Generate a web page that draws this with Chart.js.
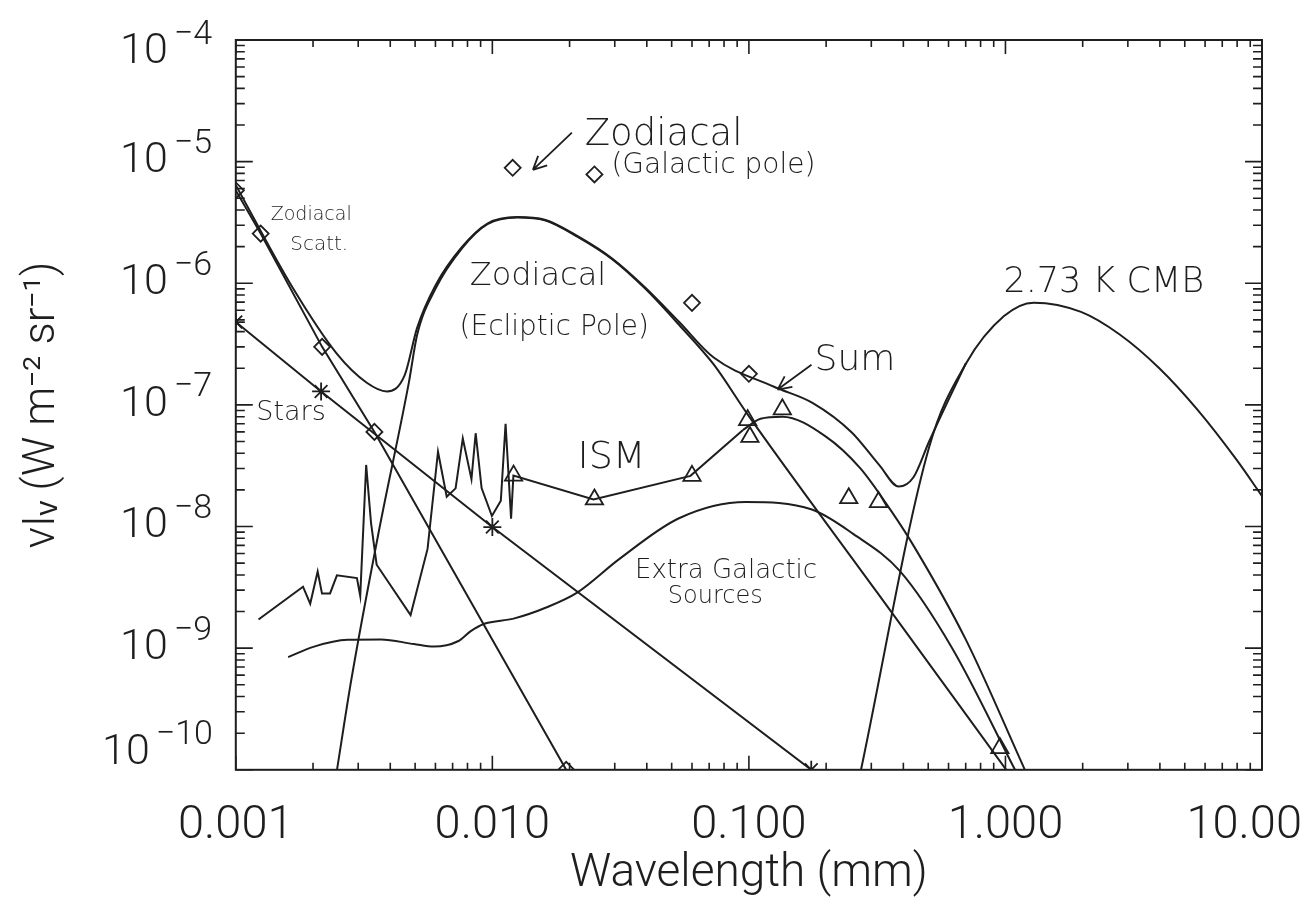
<!DOCTYPE html>
<html lang="en">
<head>
<meta charset="UTF-8">
<title>Diffuse sky brightness components</title>
<script src="https://cdn.jsdelivr.net/npm/chart.js"></script>
<style>
  html, body { margin: 0; padding: 0; background: #ffffff; }
  #wrap { width: 1306px; height: 902px; }
</style>
</head>
<body>
<div id="wrap"><canvas id="chart"></canvas></div>
<script>
// wavelength in mm, nu*I_nu in W m^-2 sr^-1

// zodiacal scattered light (diamonds on the line)
const scattX = [0.001, 0.00125, 0.00217, 0.00347, 0.0194];
const scattY = [5.8e-6, 2.56e-6, 3.0e-7, 6.0e-8, 1.0e-10];

// stars (asterisks on the line)
const starsX = [0.001, 0.00215, 0.0100, 0.175];
const starsY = [4.8e-7, 1.29e-7, 9.9e-9, 1.0e-10];

// zodiacal thermal emission, ecliptic pole
const zodiX = [0.00248, 0.00282, 0.00362, 0.00473, 0.00509, 0.0060, 0.0076, 0.00957, 0.0125, 0.016, 0.0215, 0.0293, 0.0395, 0.0535, 0.0729, 0.0987, 0.315, 1.007];
const zodiY = [1.0e-10, 5.5e-10, 9.4e-9, 1.54e-7, 3.75e-7, 9.0e-7, 1.93e-6, 3.06e-6, 3.47e-6, 3.3e-6, 2.41e-6, 1.58e-6, 9.0e-7, 4.54e-7, 2.15e-7, 8.4e-8, 2.9e-9, 1.0e-10];

// sum of all components
const sumX = [0.001, 0.00166, 0.00247, 0.00324, 0.00388, 0.00455, 0.00509, 0.0060, 0.0076, 0.00957, 0.0125, 0.016, 0.0215, 0.0293, 0.0395, 0.0535, 0.0729, 0.1253, 0.1769, 0.2518, 0.3224, 0.3837, 0.438, 0.504, 0.701];
const sumY = [6.4e-6, 9.3e-7, 2.65e-7, 1.52e-7, 1.29e-7, 1.75e-7, 4.3e-7, 9.6e-7, 1.98e-6, 3.1e-6, 3.5e-6, 3.33e-6, 2.44e-6, 1.6e-6, 9.2e-7, 4.8e-7, 2.45e-7, 1.41e-7, 1.04e-7, 5.94e-8, 3.2e-8, 2.13e-8, 2.54e-8, 5.0e-8, 2.2e-7];

// ISM: near-IR / PAH spectrum joined to the DIRBE points
const ismX = [0.001226, 0.001828, 0.00195, 0.002085, 0.002168, 0.00233, 0.002478, 0.002966, 0.003055, 0.003222, 0.003366, 0.00354, 0.0048, 0.00559, 0.00614, 0.00664, 0.00719, 0.00767, 0.00829, 0.00861, 0.00908, 0.00996, 0.01079, 0.01126, 0.01183, 0.01208, 0.0248, 0.0592, 0.0946];
const ismY = [1.72e-9, 3.2e-9, 2.32e-9, 4.26e-9, 2.81e-9, 2.82e-9, 3.97e-9, 3.77e-9, 2.69e-9, 3.21e-8, 1.07e-8, 4.85e-9, 1.87e-9, 6.55e-9, 4.12e-8, 1.76e-8, 2.06e-8, 5.3e-8, 2.45e-8, 5.85e-8, 2.07e-8, 1.22e-8, 1.63e-8, 7.0e-8, 1.16e-8, 2.62e-8, 1.67e-8, 2.61e-8, 6.2e-8];
// ISM: smooth far-IR dust part
const dustX = [0.0946, 0.111, 0.135, 0.1977, 0.272, 0.358, 0.4424, 0.70, 1.19];
const dustY = [6.2e-8, 7.7e-8, 8.0e-8, 5.57e-8, 3.01e-8, 1.35e-8, 6.74e-9, 1.18e-9, 1.0e-10];
// ISM measured points (triangles)
const ismPtsX = [0.0121, 0.025, 0.060, 0.0989, 0.1009, 0.135, 0.245, 0.32, 0.951];
const ismPtsY = [2.62e-8, 1.67e-8, 2.61e-8, 7.5e-8, 5.45e-8, 9.2e-8, 1.71e-8, 1.59e-8, 1.51e-10];

// extragalactic sources
const egsX = [0.0016, 0.00202, 0.00273, 0.00368, 0.00495, 0.00592, 0.00734, 0.00824, 0.00925, 0.0121, 0.0164, 0.0214, 0.0313, 0.0534, 0.0973, 0.176, 0.255, 0.388, 0.62, 1.09];
const egsY = [8.45e-10, 1.03e-9, 1.17e-9, 1.18e-9, 1.08e-9, 1.03e-9, 1.14e-9, 1.38e-9, 1.58e-9, 1.75e-9, 2.18e-9, 2.86e-9, 5.42e-9, 1.17e-8, 1.59e-8, 1.38e-8, 8.7e-9, 4.3e-9, 1.0e-9, 1.0e-10];

// 2.73 K CMB
const cmbX = [0.2735, 0.504, 0.701, 0.987, 1.29, 1.97, 2.78, 3.96, 5.61, 7.94, 10];
const cmbY = [1.0e-10, 4.49e-8, 2.18e-7, 5.37e-7, 6.93e-7, 5.82e-7, 3.81e-7, 2.02e-7, 9.1e-8, 3.56e-8, 1.78e-8];

// zodiacal, galactic pole (diamonds)
const galPoleX = [0.012, 0.025, 0.060, 0.100];
const galPoleY = [8.9e-6, 7.85e-6, 6.9e-7, 1.8e-7];

// axis ticks
const xTickValues = [0.001, 0.01, 0.1, 1, 10];
const xTickLabels = ['0.001', '0.010', '0.100', '1.000', '10.00'];
const yTickExps = [-4, -5, -6, -7, -8, -9, -10];

const INK = '#1e1e1e';
const HAND = '"DejaVu Sans", sans-serif';
const PLAIN = 'Roboto, "Liberation Sans", sans-serif';

// hand-written notes, placed as fractions of the plot box
const notes = [
  { text: 'Zodiacal', fx: 0.034, fy: 0.247, size: 19 },
  { text: 'Scatt.', fx: 0.053, fy: 0.288, size: 20 },
  { text: 'Stars', fx: 0.020, fy: 0.521, size: 27 },
  { text: 'Zodiacal', fx: 0.340, fy: 0.144, size: 37 },
  { text: '(Galactic pole)', fx: 0.366, fy: 0.182, size: 28 },
  { text: 'Zodiacal', fx: 0.228, fy: 0.336, size: 32 },
  { text: '(Ecliptic Pole)', fx: 0.218, fy: 0.404, size: 28 },
  { text: 'Sum', fx: 0.564, fy: 0.452, size: 36 },
  { text: '2.73 K CMB', fx: 0.748, fy: 0.345, size: 35 },
  { text: 'ISM', fx: 0.333, fy: 0.586, size: 38 },
  { text: 'Extra Galactic', fx: 0.389, fy: 0.737, size: 26 },
  { text: 'Sources', fx: 0.421, fy: 0.772, size: 24 }
];
const arrows = [
  { from: [0.3275, 0.127], to: [0.2895, 0.178] },
  { from: [0.561, 0.445], to: [0.528, 0.479] }
];

function pts(xs, ys) {
  return xs.map((x, i) => ({ x: x, y: ys[i] }));
}

function curve(xs, ys, smooth) {
  return {
    data: pts(xs, ys),
    showLine: true,
    borderColor: INK,
    borderWidth: 2,
    pointRadius: 0,
    cubicInterpolationMode: smooth ? 'monotone' : 'default',
    tension: 0,
    clip: 0
  };
}

function markers(xs, ys, style, radius, withLine) {
  return {
    data: pts(xs, ys),
    showLine: withLine,
    borderColor: INK,
    borderWidth: 2,
    pointStyle: style,
    pointRadius: radius,
    pointBorderWidth: 1.8,
    pointBorderColor: INK,
    pointBackgroundColor: 'rgba(0,0,0,0)',
    tension: 0,
    clip: 0
  };
}

// box with inward ticks, tick labels and notes
const decorations = {
  id: 'decorations',
  afterDraw(chart) {
    const { ctx, chartArea: a, scales: { x, y } } = chart;
    ctx.save();
    ctx.strokeStyle = INK;
    ctx.fillStyle = INK;
    ctx.lineWidth = 2;
    ctx.strokeRect(a.left, a.top, a.right - a.left, a.bottom - a.top);

    ctx.lineWidth = 1.6;
    ctx.beginPath();
    for (let e = -3; e <= 0; e++) {
      for (let m = 1; m <= 9; m++) {
        const px = x.getPixelForValue(m * Math.pow(10, e));
        const len = m === 1 ? 14 : 7;
        ctx.moveTo(px, a.bottom); ctx.lineTo(px, a.bottom - len);
        ctx.moveTo(px, a.top); ctx.lineTo(px, a.top + len);
      }
    }
    for (let e = -10; e <= -5; e++) {
      for (let m = 1; m <= 9; m++) {
        const py = y.getPixelForValue(m * Math.pow(10, e));
        const len = m === 1 ? 17 : 9;
        ctx.moveTo(a.left, py); ctx.lineTo(a.left + len, py);
        ctx.moveTo(a.right, py); ctx.lineTo(a.right - len, py);
      }
    }
    ctx.stroke();

    // x tick labels, the last one kept inside the canvas
    ctx.font = '300 47px ' + PLAIN;
    ctx.textAlign = 'center';
    ctx.textBaseline = 'middle';
    xTickValues.forEach((v, i) => {
      const half = ctx.measureText(xTickLabels[i]).width / 2;
      let px = x.getPixelForValue(v);
      if (px + half > chart.width - 4) px = chart.width - 4 - half;
      ctx.fillText(xTickLabels[i], px, a.bottom + 56);
    });

    // y tick labels as 10 with a raised exponent
    yTickExps.forEach((e, i) => {
      let py = y.getPixelForValue(Math.pow(10, e));
      if (i === 0) py += 12;
      if (i === yTickExps.length - 1) py -= 17;
      const exp = '\u2212' + Math.abs(e);
      ctx.font = '300 34px ' + PLAIN;
      const expLeft = a.left - 62 - (e === -10 ? 18 : 0);
      ctx.textAlign = 'left';
      ctx.fillText(exp, expLeft, py - 17);
      ctx.font = '300 43px ' + PLAIN;
      ctx.textAlign = 'right';
      ctx.fillText('10', expLeft - 6, py);
    });

    // notes
    const w = a.right - a.left, h = a.bottom - a.top;
    ctx.textAlign = 'left';
    ctx.textBaseline = 'alphabetic';
    notes.forEach(n => {
      ctx.font = '200 ' + n.size + 'px ' + HAND;
      ctx.fillText(n.text, a.left + n.fx * w, a.top + n.fy * h);
    });
    ctx.lineWidth = 1.8;
    arrows.forEach(ar => {
      const x0 = a.left + ar.from[0] * w, y0 = a.top + ar.from[1] * h;
      const x1 = a.left + ar.to[0] * w, y1 = a.top + ar.to[1] * h;
      const ang = Math.atan2(y1 - y0, x1 - x0);
      ctx.beginPath();
      ctx.moveTo(x0, y0); ctx.lineTo(x1, y1);
      ctx.moveTo(x1, y1); ctx.lineTo(x1 - 15 * Math.cos(ang - 0.45), y1 - 15 * Math.sin(ang - 0.45));
      ctx.moveTo(x1, y1); ctx.lineTo(x1 - 15 * Math.cos(ang + 0.45), y1 - 15 * Math.sin(ang + 0.45));
      ctx.stroke();
    });
    ctx.restore();
  }
};

new Chart(document.getElementById('chart'), {
  type: 'scatter',
  data: {
    datasets: [
      markers(scattX, scattY, 'rectRot', 8, true),
      markers(starsX, starsY, 'star', 9, true),
      curve(zodiX, zodiY, true),
      curve(sumX, sumY, true),
      curve(ismX, ismY, false),
      curve(dustX, dustY, true),
      markers(ismPtsX, ismPtsY, 'triangle', 10, false),
      curve(egsX, egsY, true),
      curve(cmbX, cmbY, true),
      markers(galPoleX, galPoleY, 'rectRot', 8, false)
    ]
  },
  options: {
    responsive: true,
    maintainAspectRatio: false,
    animation: false,
    layout: { padding: { left: 15, right: 44, top: 40, bottom: 0 } },
    plugins: { legend: { display: false }, tooltip: { enabled: false } },
    scales: {
      x: {
        type: 'logarithmic',
        min: 0.001,
        max: 10,
        grid: { display: false, drawTicks: false },
        border: { display: false },
        ticks: { display: false },
        title: {
          display: true,
          text: 'Wavelength (mm)',
          color: INK,
          font: { family: PLAIN, size: 46, weight: 300 },
          padding: { top: 77, bottom: 0 }
        }
      },
      y: {
        type: 'logarithmic',
        min: 1e-10,
        max: 1e-4,
        grid: { display: false, drawTicks: false },
        border: { display: false },
        ticks: { display: false },
        title: {
          display: true,
          text: '\u03BDI\u1D65 (W m\u207B\u00B2 sr\u207B\u00B9)',
          color: INK,
          font: { family: PLAIN, size: 44, weight: 300 },
          padding: { top: 2, bottom: 166 }
        }
      }
    }
  },
  plugins: [decorations]
});
</script>
</body>
</html>
